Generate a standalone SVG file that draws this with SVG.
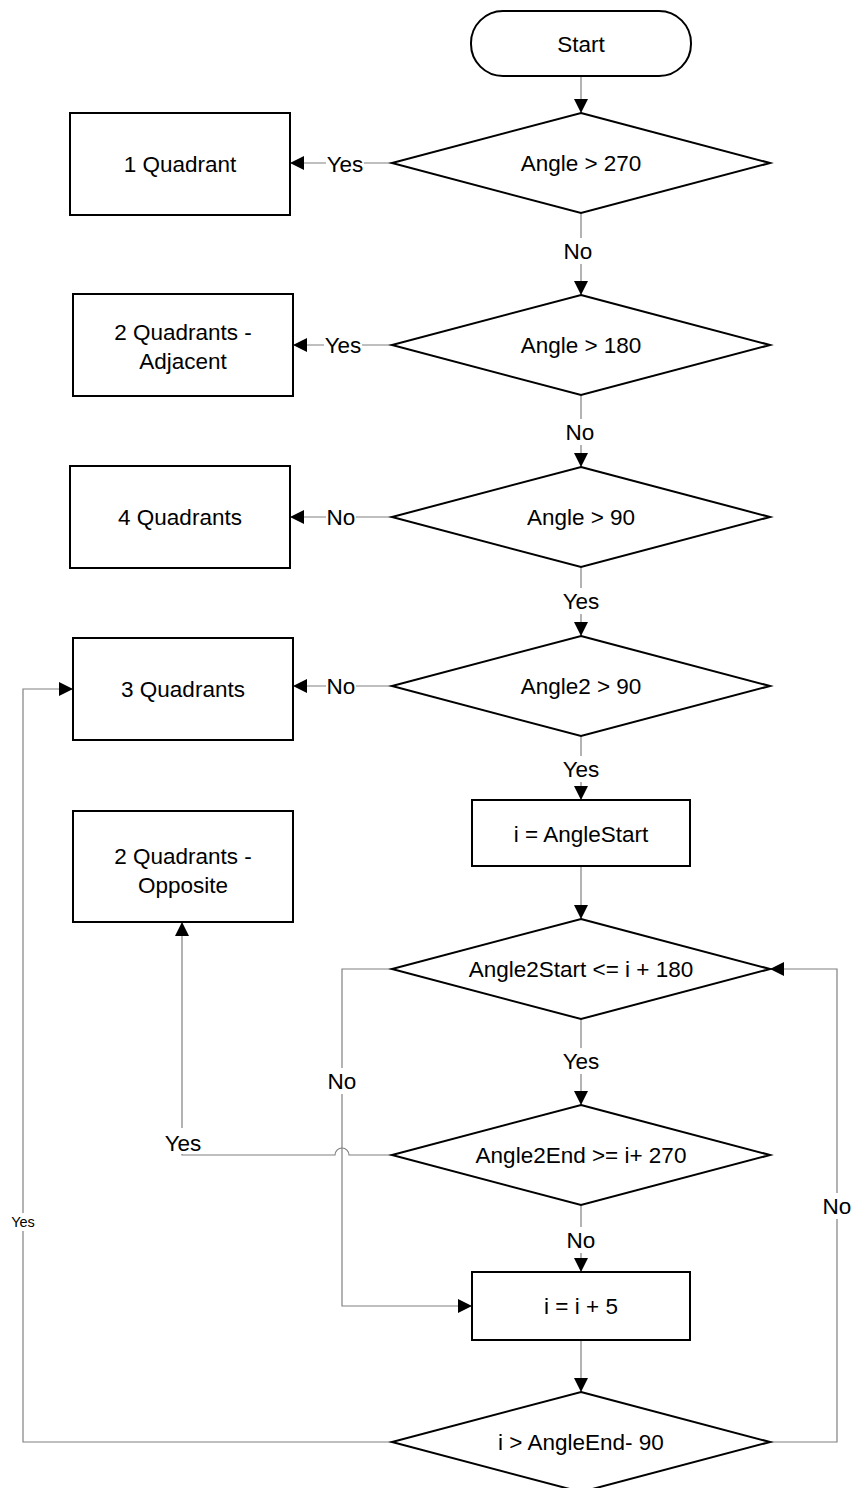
<svg xmlns="http://www.w3.org/2000/svg" width="856" height="1488" viewBox="0 0 856 1488">
<style>
.n{fill:#fff;stroke:#000;stroke-width:2}
.t{font-family:"Liberation Sans",Arial,sans-serif;font-size:22.5px;fill:#000;text-anchor:middle;dominant-baseline:central}
.c{fill:none;stroke:#808080;stroke-width:1.2}
.lb{fill:#fff}
.s{font-size:14.5px}
</style>
<defs>
<marker id="a" viewBox="0 0 10 10" refX="10" refY="5" markerWidth="14" markerHeight="14" markerUnits="userSpaceOnUse" orient="auto"><path d="M0,0 L10,5 L0,10 Z" fill="#000"/></marker>
</defs>
<rect width="856" height="1488" fill="#fff"/>
<g id="connectors">
<path class="c" d="M581,77 V113" marker-end="url(#a)"/>
<path class="c" d="M392,163 H290" marker-end="url(#a)"/>
<path class="c" d="M581,213 V295" marker-end="url(#a)"/>
<path class="c" d="M392,345 H293" marker-end="url(#a)"/>
<path class="c" d="M581,395 V467" marker-end="url(#a)"/>
<path class="c" d="M392,517 H290" marker-end="url(#a)"/>
<path class="c" d="M581,567 V636" marker-end="url(#a)"/>
<path class="c" d="M392,686 H293" marker-end="url(#a)"/>
<path class="c" d="M581,736 V800" marker-end="url(#a)"/>
<path class="c" d="M581,866 V919" marker-end="url(#a)"/>
<path class="c" d="M581,1019 V1105" marker-end="url(#a)"/>
<path class="c" d="M581,1205 V1272" marker-end="url(#a)"/>
<path class="c" d="M581,1340 V1392" marker-end="url(#a)"/>
<path class="c" d="M392,969 H342 V1306 H472" marker-end="url(#a)"/>
<path class="c" d="M392,1155 H349 A7,7 0 0 0 335,1155 H182 V922" marker-end="url(#a)"/>
<path class="c" d="M392,1442 H23 V689 H73" marker-end="url(#a)"/>
<path class="c" d="M770,1442 H837 V969 H770" marker-end="url(#a)"/>
<g id="labels">
<rect class="lb" x="326" y="150" width="38" height="26"/><text class="t" x="345" y="164">Yes</text>
<rect class="lb" x="563" y="238" width="36" height="26"/><text class="t" x="578" y="251">No</text>
<rect class="lb" x="324" y="332" width="38" height="26"/><text class="t" x="343" y="345">Yes</text>
<rect class="lb" x="563" y="419" width="36" height="26"/><text class="t" x="580" y="432">No</text>
<rect class="lb" x="326" y="504" width="30" height="26"/><text class="t" x="341" y="517">No</text>
<rect class="lb" x="562" y="588" width="38" height="26"/><text class="t" x="581" y="601">Yes</text>
<rect class="lb" x="326" y="673" width="30" height="26"/><text class="t" x="341" y="686">No</text>
<rect class="lb" x="562" y="756" width="38" height="26"/><text class="t" x="581" y="769">Yes</text>
<rect class="lb" x="562" y="1048" width="38" height="26"/><text class="t" x="581" y="1061">Yes</text>
<rect class="lb" x="563" y="1227" width="36" height="26"/><text class="t" x="581" y="1240">No</text>
<rect class="lb" x="326" y="1068" width="32" height="26"/><text class="t" x="342" y="1081">No</text>
<rect class="lb" x="163" y="1128" width="40" height="26"/><text class="t" x="183" y="1143">Yes</text>
<rect class="lb" x="821" y="1193" width="32" height="26"/><text class="t" x="837" y="1206">No</text>
<rect class="lb" x="9" y="1213" width="28" height="18"/><text class="t s" x="23" y="1222">Yes</text>
</g>
</g>
<g id="start"><rect class="n" x="471" y="11" width="220" height="65" rx="32"/><text class="t" x="581" y="44">Start</text></g>
<g id="d1"><polygon class="n" points="581,113 770,163 581,213 392,163"/><text class="t" x="581" y="163">Angle &gt; 270</text></g>
<g id="q1"><rect class="n" x="70" y="113" width="220" height="102"/><text class="t" x="180" y="164">1 Quadrant</text></g>
<g id="d2"><polygon class="n" points="581,295 770,345 581,395 392,345"/><text class="t" x="581" y="345">Angle &gt; 180</text></g>
<g id="q2a"><rect class="n" x="73" y="294" width="220" height="102"/><text class="t" x="183" y="332">2 Quadrants -</text><text class="t" x="183" y="361">Adjacent</text></g>
<g id="d3"><polygon class="n" points="581,467 770,517 581,567 392,517"/><text class="t" x="581" y="517">Angle &gt; 90</text></g>
<g id="q4"><rect class="n" x="70" y="466" width="220" height="102"/><text class="t" x="180" y="517">4 Quadrants</text></g>
<g id="d4"><polygon class="n" points="581,636 770,686 581,736 392,686"/><text class="t" x="581" y="686">Angle2 &gt; 90</text></g>
<g id="q3"><rect class="n" x="73" y="638" width="220" height="102"/><text class="t" x="183" y="689">3 Quadrants</text></g>
<g id="init"><rect class="n" x="472" y="800" width="218" height="66"/><text class="t" x="581" y="834">i = AngleStart</text></g>
<g id="q2o"><rect class="n" x="73" y="811" width="220" height="111"/><text class="t" x="183" y="856">2 Quadrants -</text><text class="t" x="183" y="885">Opposite</text></g>
<g id="d5"><polygon class="n" points="581,919 770,969 581,1019 392,969"/><text class="t" x="581" y="969">Angle2Start &lt;= i + 180</text></g>
<g id="d6"><polygon class="n" points="581,1105 770,1155 581,1205 392,1155"/><text class="t" x="581" y="1155">Angle2End &gt;= i+ 270</text></g>
<g id="inc"><rect class="n" x="472" y="1272" width="218" height="68"/><text class="t" x="581" y="1306">i = i + 5</text></g>
<g id="d7"><polygon class="n" points="581,1392 770,1442 581,1492 392,1442"/><text class="t" x="581" y="1442">i &gt; AngleEnd- 90</text></g>
</svg>
